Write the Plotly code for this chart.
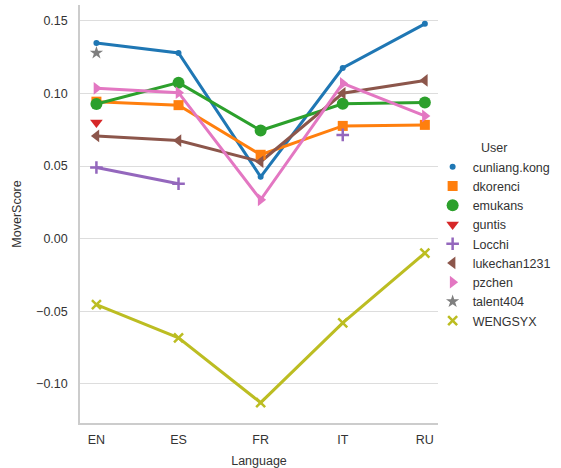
import plotly.graph_objects as go

languages = ["EN", "ES", "FR", "IT", "RU"]

cunliang_kong = [0.1348, 0.128, 0.0426, 0.1176, 0.148]
dkorenci = [0.0944, 0.092, 0.0578, 0.0777, 0.0784]
emukans = [0.0928, 0.1075, 0.0745, 0.0929, 0.0938]
guntis = [0.080, None, None, None, None]
locchi = [0.049, 0.0378, None, 0.0715, None]
lukechan1231 = [0.0708, 0.0676, 0.053, 0.1002, 0.109]
pzchen = [0.1036, 0.1006, 0.0268, 0.107, 0.0846]
talent404 = [0.128, None, None, None, None]
wengsyx = [-0.0454, -0.0683, -0.113, -0.058, -0.0099]

series = [
    ("cunliang.kong", cunliang_kong, "#1f77b4", "circle", 6),
    ("dkorenci", dkorenci, "#ff7f0e", "square", 10),
    ("emukans", emukans, "#2ca02c", "circle", 12),
    ("guntis", guntis, "#d62728", "triangle-down", 11),
    ("Locchi", locchi, "#9467bd", "cross-thin", 9),
    ("lukechan1231", lukechan1231, "#8c564b", "triangle-left", 11),
    ("pzchen", pzchen, "#e377c2", "triangle-right", 11),
    ("talent404", talent404, "#7f7f7f", "star", 10),
    ("WENGSYX", wengsyx, "#bcbd22", "x-thin", 9),
]

xs = list(range(len(languages)))
fig = go.Figure()
for name, vals, color, sym, size in series:
    fig.add_trace(go.Scatter(
        x=xs, y=vals, name=name, mode="lines", connectgaps=False,
        line=dict(color=color, width=3), showlegend=False, legendgroup=name,
        hoverinfo="skip",
    ))
for name, vals, color, sym, size in series:
    thin = sym.endswith("-thin")
    fig.add_trace(go.Scatter(
        x=xs, y=vals, name=name, mode="markers", legendgroup=name,
        marker=dict(symbol=sym, size=size, color=color,
                    line=dict(color=color, width=2.5 if thin else 0)),
    ))

FONT = "Liberation Sans, Arial, sans-serif"
fig.update_layout(
    width=561, height=468,
    margin=dict(l=80, r=123, t=5, b=45, autoexpand=False),
    plot_bgcolor="white", paper_bgcolor="white",
    font=dict(family=FONT, size=12.5, color="#333333"),
    showlegend=True,
    legend=dict(
        title=dict(text="User", font=dict(size=12.5, color="#333333"), side="top center"),
        x=0.985, xanchor="left", y=0.687, yanchor="top",
        font=dict(size=12.5, color="#333333"),
        tracegroupgap=0, itemsizing="trace",
        bgcolor="rgba(0,0,0,0)",
    ),
)
fig.update_xaxes(
    tickmode="array", tickvals=xs, ticktext=languages,
    range=[-0.2, 4.16], showgrid=False, zeroline=False,
    showline=True, linecolor="#cccccc", linewidth=1.5,
    ticks="", ticklabelstandoff=4, automargin=False,
    title=dict(text="Language", standoff=10, font=dict(size=12.5)),
)
fig.update_yaxes(
    range=[-0.127, 0.161], tickvals=[-0.10, -0.05, 0.0, 0.05, 0.10, 0.15],
    tickformat=".2f", showgrid=True, gridcolor="#dddddd", gridwidth=1,
    zeroline=False, showline=True, linecolor="#cccccc", linewidth=1.5,
    ticks="", ticklabelstandoff=8, automargin=False,
    title=dict(text="MoverScore", standoff=12, font=dict(size=12.5)),
)
fig.write_html("out.html", config={"displayModeBar": False},
               post_script="document.body.style.margin='0';")
